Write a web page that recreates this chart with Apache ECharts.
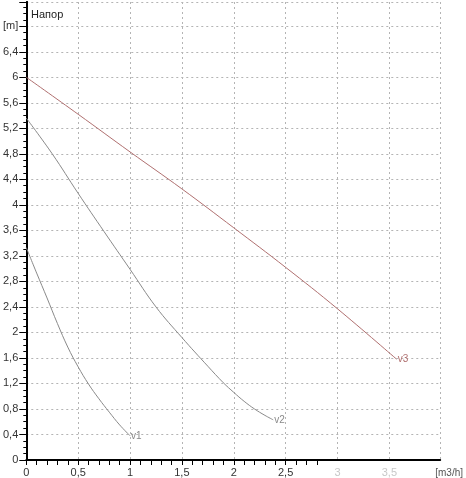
<!DOCTYPE html>
<html><head><meta charset="utf-8">
<script src="https://cdn.jsdelivr.net/npm/echarts@6/dist/echarts.min.js"></script>
<style>html,body{margin:0;padding:0;background:#fff}#c{width:466px;height:478px}</style>
</head><body><div id="c"></div>
<script>
// ---- data ----
const v1X = [0, 0.1, 0.2, 0.3, 0.4, 0.5, 0.6, 0.7, 0.8, 0.9, 1.0];
const v1Y = [3.33, 2.93, 2.54, 2.14, 1.77, 1.46, 1.19, 0.96, 0.75, 0.55, 0.38];
const v2X = [0, 0.25, 0.5, 0.75, 1.0, 1.25, 1.5, 1.75, 1.9, 2.0, 2.1, 2.2, 2.3, 2.38];
const v2Y = [5.36, 4.80, 4.18, 3.58, 2.99, 2.40, 1.92, 1.47, 1.21, 1.06, 0.92, 0.80, 0.70, 0.63];
const v3X = [0, 0.5, 1.0, 1.5, 2.0, 2.5, 3.0, 3.57];
const v3Y = [6.0, 5.42, 4.83, 4.25, 3.64, 3.02, 2.37, 1.58];
const seriesNames = ['v1', 'v2', 'v3'];
const xTickValues = [0, 0.5, 1, 1.5, 2, 2.5, 3, 3.5];
const xTickLabels = ['0', '0,5', '1', '1,5', '2', '2,5', '3', '3,5'];
const yTickLabels = ['0', '0,4', '0,8', '1,2', '1,6', '2', '2,4', '2,8', '3,2', '3,6', '4', '4,4', '4,8', '5,2', '5,6', '6', '6,4', '[m]'];
const yTitle = 'Напор';
const xUnit = '[m3/h]';

// ---- styling constants ----
const X_MAX = 3.99, Y_MAX = 7.18, X_AXIS_LINE_END = 2.87, X_TICK_END = 2.8;
const FONT = 'Liberation Sans, Arial, sans-serif';
const GRAY = '#8a8a8a', RED = '#b07070';
const GRID_LINE = {show: true, lineStyle: {color: '#b4b4b4', type: [2, 3], width: 1}};

const zip = (xs, ys) => xs.map((x, i) => [x, ys[i]]);
const minorXTicks = [];
for (let i = 0; i <= Math.round(X_TICK_END * 10); i++) minorXTicks.push(i / 10);

const chart = echarts.init(document.getElementById('c'), null, {renderer: 'canvas'});
const lineSeries = (name, data, color) => ({
  name, type: 'line', data, smooth: 0.4, showSymbol: false, symbol: 'none',
  lineStyle: {color, width: 1}, itemStyle: {color},
  endLabel: {show: true, formatter: '{a}', distance: 1, fontSize: 10, fontFamily: FONT, color}
});

chart.setOption({
  animation: false,
  backgroundColor: '#fff',
  textStyle: {fontFamily: FONT},
  title: {text: yTitle, left: 26, top: 4, textStyle: {fontSize: 11, fontWeight: 'normal', color: '#222', fontFamily: FONT}},
  grid: {left: 23, right: 22, top: 2, bottom: 18, containLabel: false},
  xAxis: [{
    type: 'value', min: 0, max: X_MAX, interval: 0.5,
    axisLine: {show: false},
    axisTick: {show: true, customValues: minorXTicks, length: 5, lineStyle: {color: '#000', width: 1}},
    axisLabel: {
      customValues: xTickValues, margin: 7, fontSize: 11, fontFamily: FONT,
      formatter: v => { const i = xTickValues.findIndex(t => Math.abs(t - v) < 1e-6); return i < 0 ? '' : xTickLabels[i]; },
      color: v => (v > X_AXIS_LINE_END ? '#c8c8c8' : '#333')
    },
    splitLine: {show: false},
    name: xUnit, nameLocation: 'end', nameGap: -5,
    nameTextStyle: {color: '#555', fontSize: 10, fontFamily: FONT, verticalAlign: 'top', padding: [8, 0, 0, 0]}
  }, {
    type: 'value', position: 'top', min: 0, max: X_MAX, interval: 0.5,
    axisLine: {show: true, lineStyle: {color: '#000', width: 2}},
    axisTick: {show: false}, axisLabel: {show: false}, splitLine: GRID_LINE
  }],
  yAxis: [{
    type: 'value', min: 0, max: Y_MAX, interval: 0.4,
    axisLine: {show: true, lineStyle: {color: '#000', width: 2}},
    axisTick: {show: true, length: 7, lineStyle: {color: '#000', width: 1}},
    minorTick: {show: true, splitNumber: 4, length: 3, lineStyle: {color: '#000', width: 1}},
    axisLabel: {
      margin: 8, fontSize: 11, color: '#333', fontFamily: FONT, showMaxLabel: false,
      formatter: v => { const k = v / 0.4; const r = Math.round(k); return Math.abs(k - r) < 1e-6 && r < yTickLabels.length ? yTickLabels[r] : ''; }
    },
    splitLine: GRID_LINE,
    minorSplitLine: {show: false}
  }, {
    type: 'value', position: 'right', min: 0, max: Y_MAX,
    axisLine: {show: true, lineStyle: {color: '#000', width: 2}},
    axisTick: {show: false}, axisLabel: {show: false}, splitLine: {show: false}
  }],
  series: [
    lineSeries(seriesNames[0], zip(v1X, v1Y), GRAY),
    lineSeries(seriesNames[1], zip(v2X, v2Y), GRAY),
    Object.assign(lineSeries(seriesNames[2], zip(v3X, v3Y), RED), {
      markLine: {
        silent: true, symbol: 'none', label: {show: false},
        lineStyle: {color: '#000', width: 2, type: 'solid'},
        data: [[{coord: [0, 0]}, {coord: [X_AXIS_LINE_END, 0]}]]
      }
    })
  ]
});
</script></body></html>
